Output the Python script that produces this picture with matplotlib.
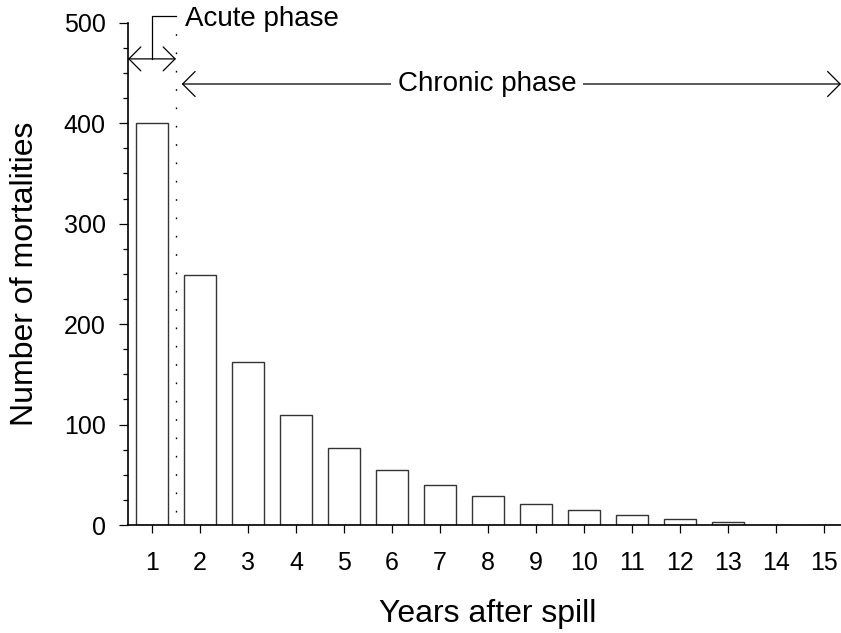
import matplotlib
matplotlib.use("Agg")
import matplotlib.pyplot as plt
from matplotlib.patches import FancyArrowPatch, ArrowStyle
from matplotlib.ticker import MultipleLocator

plt.rcParams['font.family'] = ['Liberation Sans', 'DejaVu Sans']
plt.rcParams['lines.scale_dashes'] = False

years = list(range(1, 16))
mortalities = [400, 249, 162, 110, 77, 55, 40, 29, 21, 15, 10, 6, 3, 0, 0]
tick_labels = [str(y) for y in years]
acute_label = "Acute phase"
chronic_label = "Chronic phase"
xlabel = "Years after spill"
ylabel = "Number of mortalities"

fig = plt.figure(figsize=(8.41, 6.33), dpi=100)
ax = fig.add_axes([0.1522, 0.1706, 0.8478, 0.7935])

ax.bar(years, mortalities, width=0.67, facecolor='white', edgecolor='#333333',
       linewidth=1.0, zorder=2)

ax.set_xlim(0.5, 15.36)
ax.set_ylim(0, 500)
ax.set_xticks(years)
ax.set_xticklabels(tick_labels)
ax.yaxis.set_major_locator(MultipleLocator(100))
ax.yaxis.set_minor_locator(MultipleLocator(25))

for s in ['top', 'right']:
    ax.spines[s].set_visible(False)
for s in ['left', 'bottom']:
    ax.spines[s].set_linewidth(1.2)
    ax.spines[s].set_color('black')

ax.tick_params(axis='x', which='major', length=5.5, width=0.9, pad=13.5, labelsize=18)
ax.tick_params(axis='y', which='major', length=6.2, width=0.9, pad=10, labelsize=18)
ax.tick_params(axis='y', which='minor', length=3.3, width=0.9)

ax.set_xlabel(xlabel, fontsize=23)
ax.set_ylabel(ylabel, fontsize=23)
ax.xaxis.set_label_coords(0.505, -0.178)
ax.xaxis.label.set_va('center')
ax.yaxis.set_label_coords(-0.145, 0.5)
ax.yaxis.label.set_va('center')

# dotted separator between phases
ax.plot([1.5, 1.5], [13, 500], color='black', linewidth=1.0,
        linestyle=(0, (1.2, 12.0)), zorder=3, clip_on=False)

style = ArrowStyle('<->', head_length=8.6, head_width=8.6)
style_r = ArrowStyle('<->', head_length=9.0, head_width=9.0)

# Acute phase arrow
a1 = FancyArrowPatch((0.5, 464), (1.5, 464), arrowstyle=style, mutation_scale=1,
                     shrinkA=0, shrinkB=0, color='black', linewidth=0.9,
                     clip_on=False, zorder=4)
ax.add_patch(a1)
ax.plot([1.0, 1.0, 1.5], [464, 507, 507], color='black', linewidth=0.9,
        clip_on=False, zorder=4)
ax.text(1.69, 504, acute_label, fontsize=20, ha='left', va='center', clip_on=False)

# Chronic phase arrow
a2 = FancyArrowPatch((1.62, 439), (15.36, 439), arrowstyle=style_r, mutation_scale=1,
                     shrinkA=0, shrinkB=0, color='black', linewidth=0.9,
                     clip_on=False, zorder=4)
ax.add_patch(a2)
ax.text(7.98, 439, chronic_label, fontsize=20, ha='center', va='center',
        bbox=dict(boxstyle='square,pad=0.25', facecolor='white', edgecolor='none'),
        zorder=6)

fig.savefig("out.png", dpi=100)
